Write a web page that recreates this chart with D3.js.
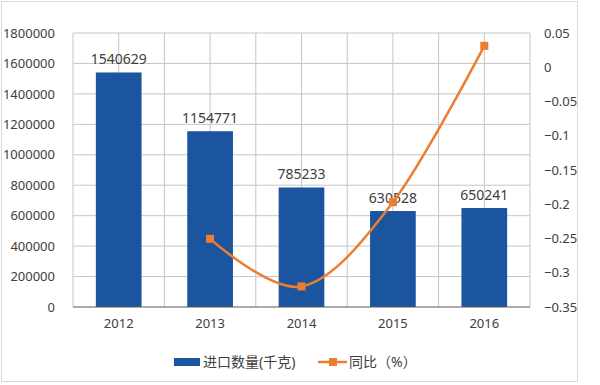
<!DOCTYPE html>
<html>
<head>
<meta charset="utf-8">
<script src="https://cdn.jsdelivr.net/npm/d3@7"></script>
<style>
    body { margin: 0; background: #fff; }
    text { font-family: "Noto Sans", "Noto Sans CJK SC", sans-serif; fill: #404040; }
</style>
</head>
<body>
<div id="chart"></div>
<script>
const years = ['2012', '2013', '2014', '2015', '2016'];
const importQty = [1540629, 1154771, 785233, 630528, 650241];
const yoyYears = ['2013', '2014', '2015', '2016'];
const yoyValues = [-0.2505, -0.32, -0.197, 0.0313];
const leftTicks = [0, 200000, 400000, 600000, 800000, 1000000, 1200000, 1400000, 1600000, 1800000];
const rightTicks = [-0.35, -0.3, -0.25, -0.2, -0.15, -0.1, -0.05, 0, 0.05];

const width = 600;
const height = 385;
const margin = { top: 33, right: 70, bottom: 78, left: 73 };
const innerW = width - margin.left - margin.right;
const innerH = height - margin.top - margin.bottom;

const svg = d3.select('#chart').append('svg')
    .attr('width', width)
    .attr('height', height);

// outer frame
svg.append('rect')
    .attr('x', 1.5).attr('y', 1.5)
    .attr('width', 576).attr('height', 380)
    .attr('fill', '#fff')
    .attr('stroke', '#d9d9d9');

const g = svg.append('g')
    .attr('transform', `translate(${margin.left},${margin.top})`);

const x = d3.scaleBand()
    .domain(years)
    .range([0, innerW]);

const yLeft = d3.scaleLinear()
    .domain([0, 1800000])
    .range([innerH, 0]);

const yRight = d3.scaleLinear()
    .domain([-0.35, 0.05])
    .range([innerH, 0]);

// horizontal grid
g.selectAll('.hgrid')
    .data(leftTicks.slice(1))
    .enter()
    .append('line')
    .attr('x1', 0).attr('x2', innerW)
    .attr('y1', d => yLeft(d)).attr('y2', d => yLeft(d))
    .attr('stroke', '#c6c6c6');

// vertical grid: band edges and centres
const vLines = [];
years.forEach(y => {
    vLines.push(x(y));
    vLines.push(x(y) + x.bandwidth() / 2);
});
vLines.push(innerW);
g.selectAll('.vgrid')
    .data(vLines)
    .enter()
    .append('line')
    .attr('x1', d => d).attr('x2', d => d)
    .attr('y1', 0).attr('y2', innerH)
    .attr('stroke', '#c6c6c6');

// bars
const barW = x.bandwidth() * 0.5;
g.selectAll('.bar')
    .data(years.map((y, i) => ({ year: y, value: importQty[i] })))
    .enter()
    .append('rect')
    .attr('x', d => x(d.year) + (x.bandwidth() - barW) / 2)
    .attr('y', d => yLeft(d.value))
    .attr('width', barW)
    .attr('height', d => innerH - yLeft(d.value))
    .attr('fill', '#1c559f');

g.selectAll('.barLabel')
    .data(years.map((y, i) => ({ year: y, value: importQty[i] })))
    .enter()
    .append('text')
    .attr('x', d => x(d.year) + x.bandwidth() / 2)
    .attr('y', d => yLeft(d.value) - 8)
    .attr('text-anchor', 'middle')
    .style('font-size', '14px')
    .text(d => d.value);

// x axis line
g.append('line')
    .attr('x1', 0).attr('x2', innerW)
    .attr('y1', innerH).attr('y2', innerH)
    .attr('stroke', '#595959')
    .attr('stroke-width', 1.2);

// left axis
const leftAxis = g.append('g')
    .call(d3.axisLeft(yLeft).tickValues(leftTicks).tickSize(0).tickPadding(18).tickFormat(d => d));
leftAxis.select('.domain').remove();
leftAxis.selectAll('text').style('font-size', '13px').attr('fill', '#404040');

// right axis
const rightAxis = g.append('g')
    .attr('transform', `translate(${innerW},0)`)
    .call(d3.axisRight(yRight).tickValues(rightTicks).tickSize(0).tickPadding(14)
        .tickFormat(d => d3.format('')(+d.toFixed(2))));
rightAxis.select('.domain').remove();
rightAxis.selectAll('text').style('font-size', '13px').attr('fill', '#404040');

// bottom axis labels
const bottomAxis = g.append('g')
    .attr('transform', `translate(0,${innerH})`)
    .call(d3.axisBottom(x).tickSize(0).tickPadding(12));
bottomAxis.select('.domain').remove();
bottomAxis.selectAll('text').style('font-size', '13px').attr('fill', '#404040');

// yoy line
const yoyData = yoyYears.map((y, i) => ({ year: y, value: yoyValues[i] }));
const line = d3.line()
    .x(d => x(d.year) + x.bandwidth() / 2)
    .y(d => yRight(d.value))
    .curve(d3.curveCatmullRom.alpha(0));

g.append('path')
    .datum(yoyData)
    .attr('d', line)
    .attr('fill', 'none')
    .attr('stroke', '#ed7d31')
    .attr('stroke-width', 2.5);

g.selectAll('.marker')
    .data(yoyData)
    .enter()
    .append('rect')
    .attr('x', d => x(d.year) + x.bandwidth() / 2 - 4)
    .attr('y', d => yRight(d.value) - 4)
    .attr('width', 8)
    .attr('height', 8)
    .attr('fill', '#ed7d31');

// legend
const legend = svg.append('g').attr('transform', 'translate(0,362)');
legend.append('rect')
    .attr('x', 174).attr('y', -4)
    .attr('width', 26).attr('height', 8)
    .attr('fill', '#1c559f');
legend.append('text')
    .attr('x', 203).attr('y', 5)
    .style('font-size', '14px')
    .text('进口数量(千克)');
legend.append('line')
    .attr('x1', 318).attr('x2', 347)
    .attr('y1', 0).attr('y2', 0)
    .attr('stroke', '#ed7d31')
    .attr('stroke-width', 2.5);
legend.append('rect')
    .attr('x', 329).attr('y', -4)
    .attr('width', 8).attr('height', 8)
    .attr('fill', '#ed7d31');
legend.append('text')
    .attr('x', 349).attr('y', 5)
    .style('font-size', '14px')
    .text('同比（%）');
</script>
</body>
</html>
